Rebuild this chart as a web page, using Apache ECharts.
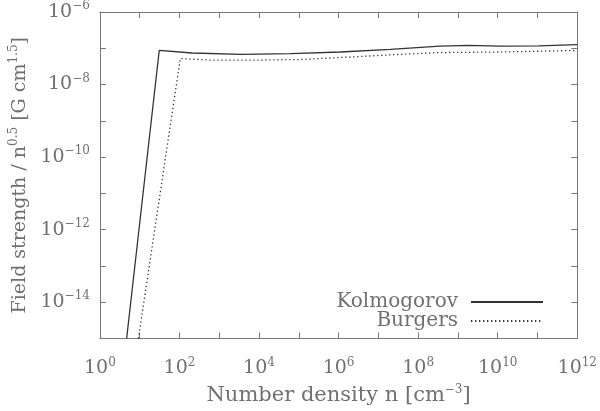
<!DOCTYPE html>
<html><head><meta charset="utf-8">
<script src="https://cdn.jsdelivr.net/npm/echarts@6/dist/echarts.min.js"></script>
<style>html,body{margin:0;padding:0;background:#fff}#c{width:600px;height:411px}</style>
</head><body><div id="c"></div>
<script>
var kolN = [4.7, 31, 209, 3630, 6.3e4, 1.1e6, 2.0e7, 3.5e8, 1.9e9, 1.1e10, 1.1e11, 1e12];
var kolB = [1e-15, 8.7e-8, 7.4e-8, 6.8e-8, 7.1e-8, 7.9e-8, 9.3e-8, 1.15e-7, 1.2e-7, 1.15e-7, 1.17e-7, 1.26e-7];
var burN = [9.3, 105, 650, 6500, 1.1e5, 2.0e6, 3.5e7, 3.5e8, 1.1e10, 1e12];
var burB = [1e-15, 5.2e-8, 4.7e-8, 4.7e-8, 4.9e-8, 5.75e-8, 6.8e-8, 7.6e-8, 7.9e-8, 8.7e-8];
var seriesNames = ['Kolmogorov', 'Burgers'];
var xTitle = 'Number density n [cm{s|−3}]';
var yTitle = 'Field strength / n{s|0.5} [G cm{s|1.5}]';

function pairs(xs, ys){ return xs.map(function(x,i){ return [x, ys[i]]; }); }
var TXT = '#707070';
var FONT = 'DejaVu Serif';
var rich = {
  b: {fontFamily: FONT, fontSize: 19, color: TXT},
  s: {fontFamily: FONT, fontSize: 12, color: TXT, padding: [0,0,12,0]}
};
function expLabel(v, evenOnly){
  var e = Math.round(Math.log10(v));
  if (evenOnly && e % 2 !== 0) return '';
  return '{b|10}{s|' + (e < 0 ? '−' + (-e) : e) + '}';
}
var axisCommon = {
  type: 'log', logBase: 10, interval: 1,
  axisLine: {show: true, lineStyle: {color: '#777', width: 1}},
  axisTick: {show: true, inside: true, length: 6, lineStyle: {color: '#777'}},
  splitLine: {show: false},
  minorTick: {show: false}
};
var legendCommon = {
  right: 51, align: 'right', itemWidth: 72, itemHeight: 10, itemGap: 12,
  itemStyle: {opacity: 0},
  textStyle: {fontFamily: FONT, fontSize: 20, color: TXT, padding: [0, 8, 0, 0]}
};
var chart = echarts.init(document.getElementById('c'));
chart.setOption({
  animation: false,
  backgroundColor: '#fff',
  grid: {left: 97, right: 21, top: 9, bottom: 61, containLabel: false},
  xAxis: [
    Object.assign({}, axisCommon, {
      min: 1, max: 1e12, position: 'bottom',
      axisLabel: {margin: 18, formatter: function(v){ return expLabel(v, true); }, rich: rich},
      name: xTitle, nameLocation: 'middle', nameGap: 45,
      nameTextStyle: {fontFamily: FONT, fontSize: 21, color: TXT, rich: {s: {fontFamily: FONT, fontSize: 12, color: TXT, padding: [0,0,12,0]}}}
    }),
    Object.assign({}, axisCommon, {min: 1, max: 1e12, position: 'top', axisLabel: {show: false}})
  ],
  yAxis: [
    Object.assign({}, axisCommon, {
      min: 1e-15, max: 1e-6, position: 'left',
      axisLabel: {margin: 10, formatter: function(v){ return expLabel(v, true); }, rich: rich},
      name: yTitle, nameLocation: 'middle', nameGap: 66, nameRotate: 90,
      nameTextStyle: {fontFamily: FONT, fontSize: 19, color: TXT, rich: {s: {fontFamily: FONT, fontSize: 12, color: TXT, padding: [0,0,12,0]}}}
    }),
    Object.assign({}, axisCommon, {min: 1e-15, max: 1e-6, position: 'right', axisLabel: {show: false}})
  ],
  legend: [
    Object.assign({}, legendCommon, {data: [seriesNames[0]], top: 287}),
    Object.assign({}, legendCommon, {data: [seriesNames[1]], top: 306})
  ],
  series: [
    {name: seriesNames[0], type: 'line', data: pairs(kolN, kolB), showSymbol: false, symbol: 'none', smooth: false,
     lineStyle: {color: '#333', width: 1.3, type: 'solid'}, itemStyle: {color: '#333'}},
    {name: seriesNames[1], type: 'line', data: pairs(burN, burB), showSymbol: false, symbol: 'none', smooth: false,
     lineStyle: {color: '#333', width: 1.3, type: [1.3, 2.7]}, itemStyle: {color: '#333'}}
  ]
});
</script></body></html>
